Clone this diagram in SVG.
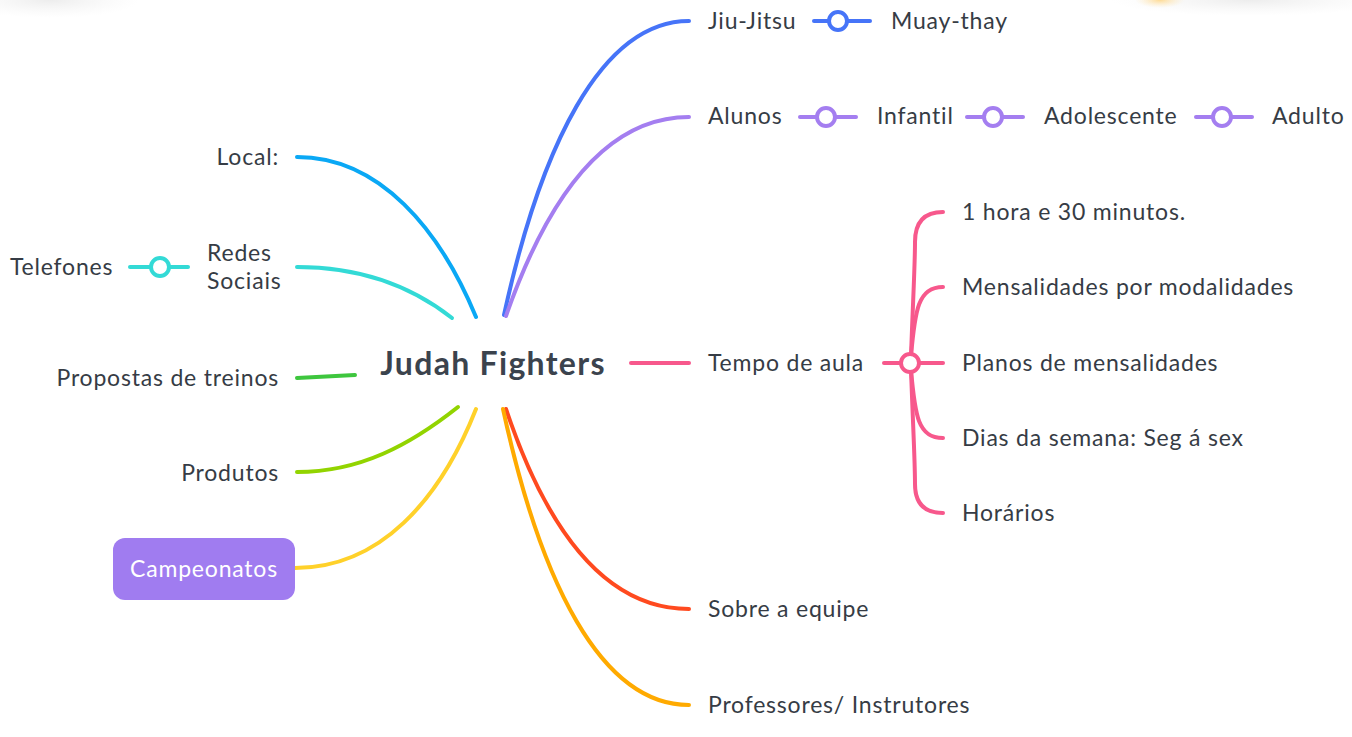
<svg xmlns="http://www.w3.org/2000/svg" width="1352" height="737" viewBox="0 0 1352 737">
<style>
.t{font-family:Lato,"Noto Sans","Liberation Sans",sans-serif;font-size:23px;fill:#363c45;letter-spacing:0.8px}
.r{text-anchor:end}
.c{fill:none;stroke-width:4;stroke-linecap:round}
.dot{fill:#fff;stroke-width:4}
</style>
<defs>
<radialGradient id="gl" cx="0.5" cy="0.5" r="0.5"><stop offset="0" stop-color="#e8e8e8" stop-opacity="0.8"/><stop offset="1" stop-color="#f2f2f2" stop-opacity="0"/></radialGradient>
<radialGradient id="go" cx="0.5" cy="0.5" r="0.5"><stop offset="0" stop-color="#ffd27a" stop-opacity="0.8"/><stop offset="1" stop-color="#ffe8b8" stop-opacity="0"/></radialGradient>
</defs>
<rect width="1352" height="737" fill="#fff"/>
<ellipse cx="50" cy="0" rx="90" ry="18" fill="url(#gl)"/>
<ellipse cx="1250" cy="0" rx="140" ry="16" fill="url(#gl)"/>
<ellipse cx="1160" cy="0" rx="25" ry="8" fill="url(#go)"/>

<g id="connectors">
<path class="c" stroke="#0aa8f5" d="M476,317 C440,230 380,157 297,157"/>
<path class="c" stroke="#33dad6" d="M452,318 C410,285 360,267 297,267"/>
<path class="c" stroke="#33dad6" d="M130,267 H188"/>
<circle class="dot" stroke="#33dad6" cx="160" cy="267" r="9"/>
<path class="c" stroke="#3ec63e" d="M297,378 L355,375"/>
<path class="c" stroke="#92d400" d="M458,407 C410,445 360,472 297,472"/>
<path class="c" stroke="#ffd12a" d="M476,409 C440,500 380,568 295,568"/>
<path class="c" stroke="#4674f8" d="M504,315 C540,150 600,21 689,21"/>
<path class="c" stroke="#4674f8" d="M814,21 H870"/>
<circle class="dot" stroke="#4674f8" cx="838" cy="21" r="9"/>
<path class="c" stroke="#a47ef0" d="M506,316 C550,190 610,117 689,117"/>
<path class="c" stroke="#a47ef0" d="M800,117 H856"/>
<circle class="dot" stroke="#a47ef0" cx="826" cy="117" r="9"/>
<path class="c" stroke="#a47ef0" d="M967,117 H1023"/>
<circle class="dot" stroke="#a47ef0" cx="993" cy="117" r="9"/>
<path class="c" stroke="#a47ef0" d="M1196,117 H1252"/>
<circle class="dot" stroke="#a47ef0" cx="1222" cy="117" r="9"/>
<path class="c" stroke="#ff4a1f" d="M506,409 C550,540 610,609 689,609"/>
<path class="c" stroke="#ffaa00" d="M503,409 C540,580 600,705 689,705"/>
<path class="c" stroke="#f7588c" d="M631,363 H689"/>
<path class="c" stroke="#f7588c" d="M884,363 H943"/>
<path class="c" stroke="#f7588c" d="M911,356 C913,300 915,265 915,242 Q915,212 943,212"/>
<path class="c" stroke="#f7588c" d="M911,356 C915,310 918,287 943,287"/>
<path class="c" stroke="#f7588c" d="M911,370 C915,416 918,438 943,438"/>
<path class="c" stroke="#f7588c" d="M911,370 C913,426 915,461 915,484 Q915,513 943,513"/>
<circle class="dot" stroke="#f7588c" cx="910" cy="363" r="9"/>
</g>

<g id="root"><text x="493" y="375" text-anchor="middle" style="font-family:Lato,'Noto Sans','Liberation Sans',sans-serif;font-size:32px;font-weight:bold;fill:#3b434d;letter-spacing:1.3px">Judah Fighters</text></g>
<g id="local"><text class="t r" x="279" y="165">Local:</text></g>
<g id="redes"><text class="t" x="207" y="261">Redes</text><text class="t" x="207" y="289">Sociais</text></g>
<g id="telefones"><text class="t" x="10" y="275">Telefones</text></g>
<g id="propostas"><text class="t r" x="279" y="386">Propostas de treinos</text></g>
<g id="produtos"><text class="t r" x="279" y="481">Produtos</text></g>
<g id="campeonatos"><rect x="113" y="538" width="182" height="62" rx="12" fill="#a07cf0"/><text class="t" x="204" y="577" text-anchor="middle" style="fill:#fff">Campeonatos</text></g>
<g id="jiujitsu"><text class="t" x="708" y="29">Jiu-Jitsu</text></g>
<g id="muaythay"><text class="t" x="891" y="29">Muay-thay</text></g>
<g id="alunos"><text class="t" x="708" y="124">Alunos</text></g>
<g id="infantil"><text class="t" x="877" y="124">Infantil</text></g>
<g id="adolescente"><text class="t" x="1044" y="124">Adolescente</text></g>
<g id="adulto"><text class="t" x="1272" y="124">Adulto</text></g>
<g id="tempo"><text class="t" x="708" y="371">Tempo de aula</text></g>
<g id="hora"><text class="t" x="962" y="220">1 hora e 30 minutos.</text></g>
<g id="mensalidades"><text class="t" x="962" y="295">Mensalidades por modalidades</text></g>
<g id="planos"><text class="t" x="962" y="371">Planos de mensalidades</text></g>
<g id="dias"><text class="t" x="962" y="446">Dias da semana: Seg á sex</text></g>
<g id="horarios"><text class="t" x="962" y="521">Horários</text></g>
<g id="sobre"><text class="t" x="708" y="617">Sobre a equipe</text></g>
<g id="professores"><text class="t" x="708" y="713">Professores/ Instrutores</text></g>
</svg>
